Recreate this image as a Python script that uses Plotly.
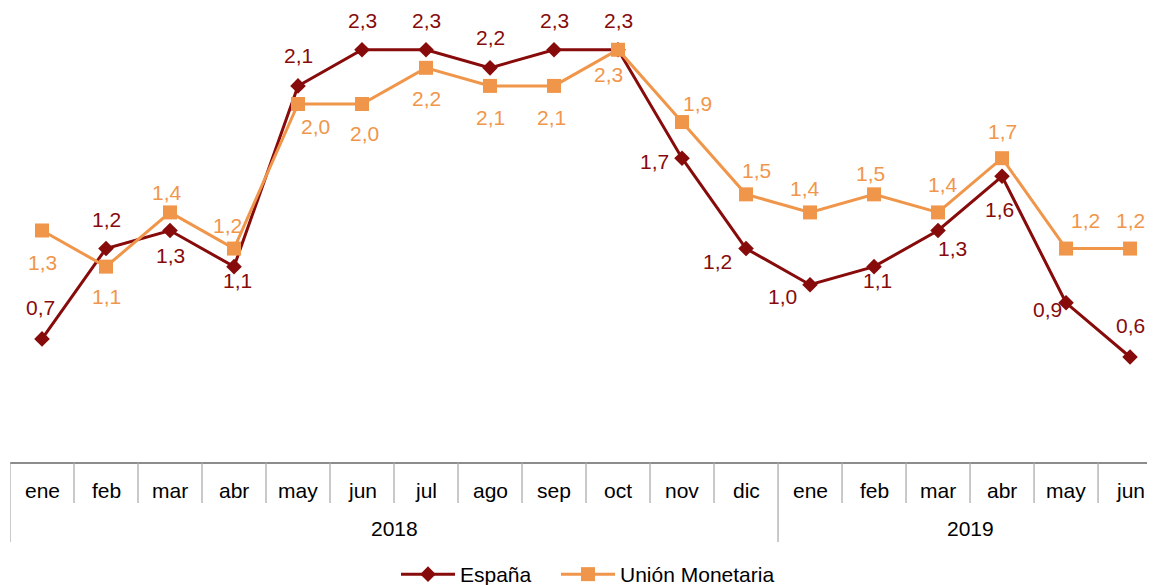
import plotly.graph_objects as go

months = ["ene", "feb", "mar", "abr", "may", "jun", "jul", "ago", "sep", "oct", "nov", "dic",
          "ene", "feb", "mar", "abr", "may", "jun"]
years = ["2018"] * 12 + ["2019"] * 6
espana = [0.7, 1.2, 1.3, 1.1, 2.1, 2.3, 2.3, 2.2, 2.3, 2.3, 1.7, 1.2, 1.0, 1.1, 1.3, 1.6, 0.9, 0.6]
union_monetaria = [1.3, 1.1, 1.4, 1.2, 2.0, 2.0, 2.2, 2.1, 2.1, 2.3, 1.9, 1.5, 1.4, 1.5, 1.4, 1.7, 1.2, 1.2]

# label offsets (style): pixels right / down from the point
esp_off = [(-2, -31), (0, -29), (0, 25), (3, 14), (0, -30), (0, -29), (0, -29), (0, -30), (0, -29),
           (0, -29), (-28, 3), (-29, 13), (-28, 12), (3, 14), (14, 18), (-3, 33), (-19, 7), (0, -32)]
um_off = [(0, 32), (0, 30), (-3, -20), (-7, -23), (17, 23), (2, 30), (0, 31), (0, 32), (-3, 32),
          (-10, 25), (15, -19), (10, -24), (-5, -24), (-4, -21), (5, -28), (0, -27), (19, -28), (0, -28)]

C_ESP = "#870B0B"
C_UM = "#F0964B"
FONT = "Liberation Sans, Arial, sans-serif"
FS = 21

x = list(range(len(months)))

fig = go.Figure()
fig.add_trace(go.Scatter(x=x, y=espana, mode="lines+markers", name="España",
                         line=dict(color=C_ESP, width=3),
                         marker=dict(symbol="diamond", size=12, color=C_ESP),
                         legend="legend"))
fig.add_trace(go.Scatter(x=x, y=union_monetaria, mode="lines+markers", name="Unión Monetaria",
                         line=dict(color=C_UM, width=3),
                         marker=dict(symbol="square", size=14, color=C_UM),
                         legend="legend2"))

def fmt(v):
    return f"{v:.1f}".replace(".", ",")

annotations = []
for vals, offs, col in ((espana, esp_off, C_ESP), (union_monetaria, um_off, C_UM)):
    for xi, v, (dx, dy) in zip(x, vals, offs):
        annotations.append(dict(x=xi, y=v, xref="x", yref="y", text=fmt(v), showarrow=False,
                                xshift=dx, yshift=-dy, font=dict(color=col, size=FS, family=FONT)))

# page has an 8px body margin: figure is shrunk/offset to compensate
W, H = 1147, 577
MT, MB, ML = 2, 123, 2
plot_h = H - MT - MB
plot_w = W - ML


def py(pix_below):
    return -pix_below / plot_h


def px(page_x):
    return (page_x - 10) / plot_w

# month labels
for xi, m in zip(x, months):
    annotations.append(dict(x=xi, y=py(28), xref="x", yref="paper", text=m, showarrow=False,
                            yanchor="middle", font=dict(color="#000000", size=FS, family=FONT)))
# year labels and dividers
shapes = []
groups = []
for i, yv in enumerate(years):
    if not groups or groups[-1][0] != yv:
        groups.append([yv, i, i])
    else:
        groups[-1][2] = i
for yv, a, b in groups:
    annotations.append(dict(x=(a + b) / 2, y=py(66), xref="x", yref="paper", text=yv, showarrow=False,
                            yanchor="middle", font=dict(color="#000000", size=FS, family=FONT)))
    shapes.append(dict(type="line", xref="x", yref="paper", x0=a - 0.5, x1=a - 0.5, y0=0, y1=py(80),
                       line=dict(color="#A6A6A6", width=1.2)))
group_starts = {a for _, a, _ in groups}
for i in x[1:]:
    if i not in group_starts:
        shapes.append(dict(type="line", xref="x", yref="paper", x0=i - 0.5, x1=i - 0.5, y0=0, y1=py(41),
                           line=dict(color="#A6A6A6", width=1.2)))

leg_common = dict(orientation="h", yanchor="bottom", y=py(133), xanchor="left",
                  font=dict(size=FS, family=FONT, color="#000000"), itemwidth=54,
                  bgcolor="rgba(0,0,0,0)")

fig.update_layout(
    width=W, height=H,
    margin=dict(l=ML, r=0, t=MT, b=MB, autoexpand=False),
    paper_bgcolor="white", plot_bgcolor="white",
    font=dict(family=FONT, size=FS, color="#000000"),
    xaxis=dict(range=[-0.5, 17.39], showgrid=False, zeroline=False, showticklabels=False,
               ticks="", showline=True, linecolor="#8C8C8C", linewidth=1.5),
    yaxis=dict(range=[0.019, 2.52], showgrid=False, zeroline=False, showticklabels=False,
               ticks="", showline=False),
    showlegend=True,
    legend=dict(x=px(396), **leg_common),
    legend2=dict(x=px(556), **leg_common),
    annotations=annotations,
    shapes=shapes,
)

fig.write_html("out.html")
